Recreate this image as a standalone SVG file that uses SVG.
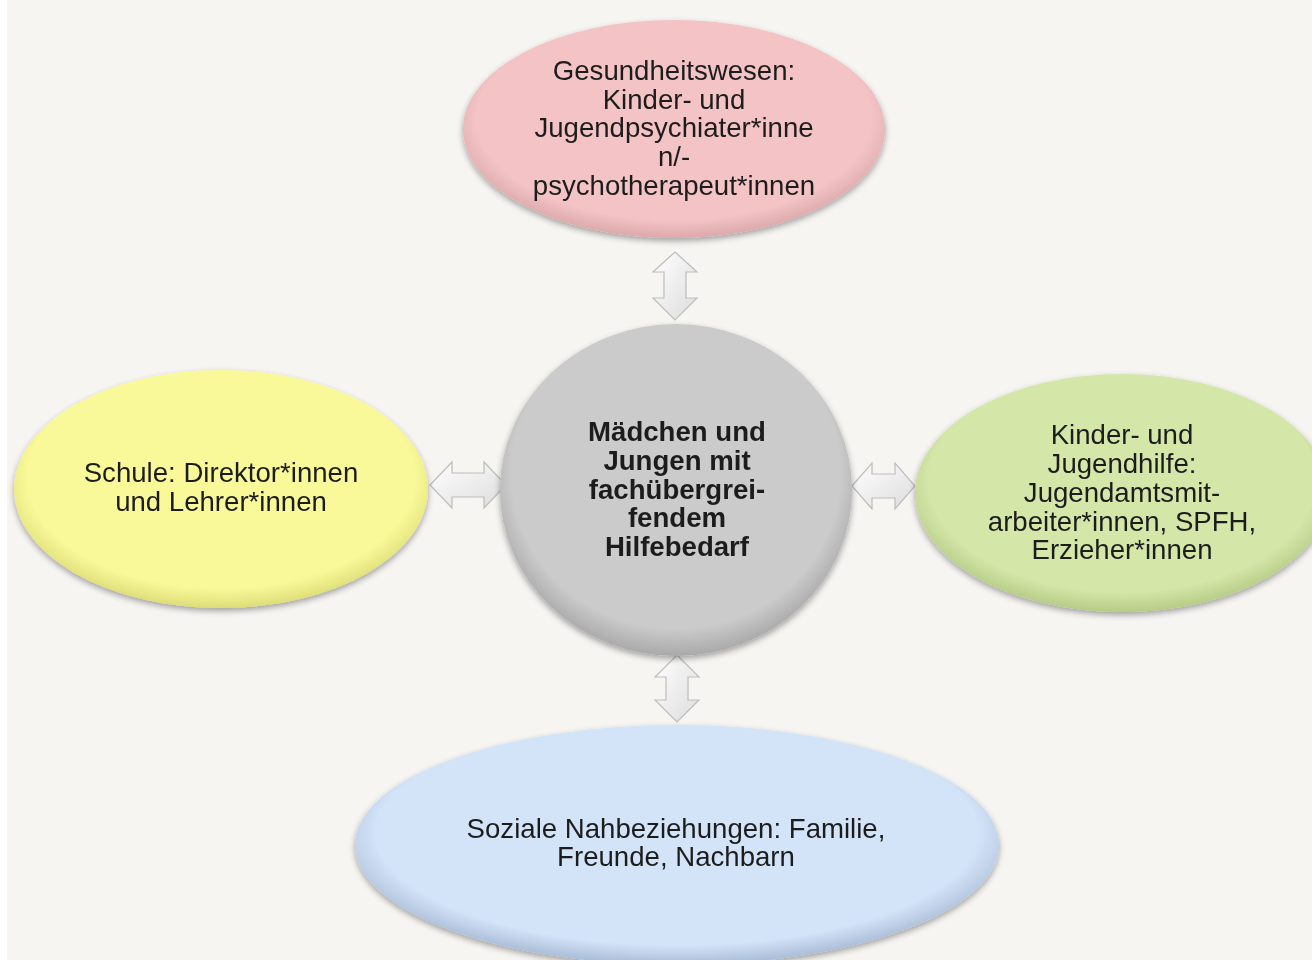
<svg xmlns="http://www.w3.org/2000/svg" width="1312" height="960" viewBox="0 0 1312 960">
<defs>
<style>
.t{font-family:"Liberation Sans",Arial,sans-serif;font-size:27.6px;fill:#1e1e1e;text-anchor:middle}
.b{font-weight:bold}
.arr{fill:url(#ag);stroke:#bdbdbd;stroke-width:1.2}
</style>
<filter id="sh" x="-10%" y="-10%" width="120%" height="125%">
<feGaussianBlur in="SourceAlpha" stdDeviation="3"/>
<feOffset dx="0" dy="3" result="o"/>
<feComponentTransfer><feFuncA type="linear" slope="0.35"/></feComponentTransfer>
<feMerge><feMergeNode/><feMergeNode in="SourceGraphic"/></feMerge>
</filter>
<radialGradient id="gp" cx="50%" cy="45%" r="55%"><stop offset="0.85" stop-color="#f3c3c5"/><stop offset="1" stop-color="#dca9ac"/></radialGradient>
<radialGradient id="gg" cx="50%" cy="45%" r="55%"><stop offset="0.85" stop-color="#cbcbcb"/><stop offset="1" stop-color="#a9a9a9"/></radialGradient>
<radialGradient id="gy" cx="50%" cy="45%" r="55%"><stop offset="0.85" stop-color="#f9f99a"/><stop offset="1" stop-color="#dede78"/></radialGradient>
<radialGradient id="gr" cx="50%" cy="45%" r="55%"><stop offset="0.85" stop-color="#d4e6a8"/><stop offset="1" stop-color="#b6cc86"/></radialGradient>
<radialGradient id="gb" cx="50%" cy="45%" r="55%"><stop offset="0.85" stop-color="#d3e3f8"/><stop offset="1" stop-color="#a9bcd6"/></radialGradient>
<linearGradient id="ag" x1="0" y1="0" x2="1" y2="1"><stop offset="0" stop-color="#ffffff"/><stop offset="1" stop-color="#dcdcdc"/></linearGradient>
</defs>
<rect width="1312" height="960" fill="#ffffff"/>
<rect x="7" y="0" width="1305" height="960" fill="#f7f5f2"/>

<g id="connectors">
<path class="arr" d="M675,252 L697,272 L686,272 L686,298 L697,298 L675,320 L653,298 L664,298 L664,272 L653,272 Z"/>
<path class="arr" d="M677,655 L699,677 L688,677 L688,700 L699,700 L677,722 L655,700 L666,700 L666,677 L655,677 Z"/>
<path class="arr" d="M430,485 L452,462 L452,473 L484,473 L484,462 L506,485 L484,508 L484,497 L452,497 L452,508 Z"/>
<path class="arr" d="M852,486 L872,463 L872,474 L895,474 L895,463 L915,486 L895,509 L895,498 L872,498 L872,509 Z"/>
</g>

<g id="node-top" filter="url(#sh)">
<ellipse cx="674" cy="129" rx="211" ry="109" fill="url(#gp)"/>
<text class="t" x="674" y="80">Gesundheitswesen:</text>
<text class="t" x="674" y="109">Kinder- und</text>
<text class="t" x="674" y="137">Jugendpsychiater*inne</text>
<text class="t" x="674" y="166">n/-</text>
<text class="t" x="674" y="195">psychotherapeut*innen</text>
</g>

<g id="node-center" filter="url(#sh)">
<ellipse cx="676" cy="490" rx="176" ry="166" fill="url(#gg)"/>
<text class="t b" x="677" y="441">Mädchen und</text>
<text class="t b" x="677" y="470">Jungen mit</text>
<text class="t b" x="677" y="499">fachübergrei-</text>
<text class="t b" x="677" y="527">fendem</text>
<text class="t b" x="677" y="556">Hilfebedarf</text>
</g>

<g id="node-left" filter="url(#sh)">
<ellipse cx="221" cy="489" rx="207" ry="119" fill="url(#gy)"/>
<text class="t" x="221" y="482">Schule: Direktor*innen</text>
<text class="t" x="221" y="511">und Lehrer*innen</text>
</g>

<g id="node-right" filter="url(#sh)">
<ellipse cx="1122" cy="493" rx="207" ry="119" fill="url(#gr)"/>
<text class="t" x="1122" y="444">Kinder- und</text>
<text class="t" x="1122" y="473">Jugendhilfe:</text>
<text class="t" x="1122" y="502">Jugendamtsmit-</text>
<text class="t" x="1122" y="531">arbeiter*innen, SPFH,</text>
<text class="t" x="1122" y="559">Erzieher*innen</text>
</g>

<g id="node-bottom" filter="url(#sh)">
<ellipse cx="677" cy="845" rx="322" ry="120" fill="url(#gb)"/>
<text class="t" x="676" y="838">Soziale Nahbeziehungen: Familie,</text>
<text class="t" x="676" y="866">Freunde, Nachbarn</text>
</g>
</svg>
